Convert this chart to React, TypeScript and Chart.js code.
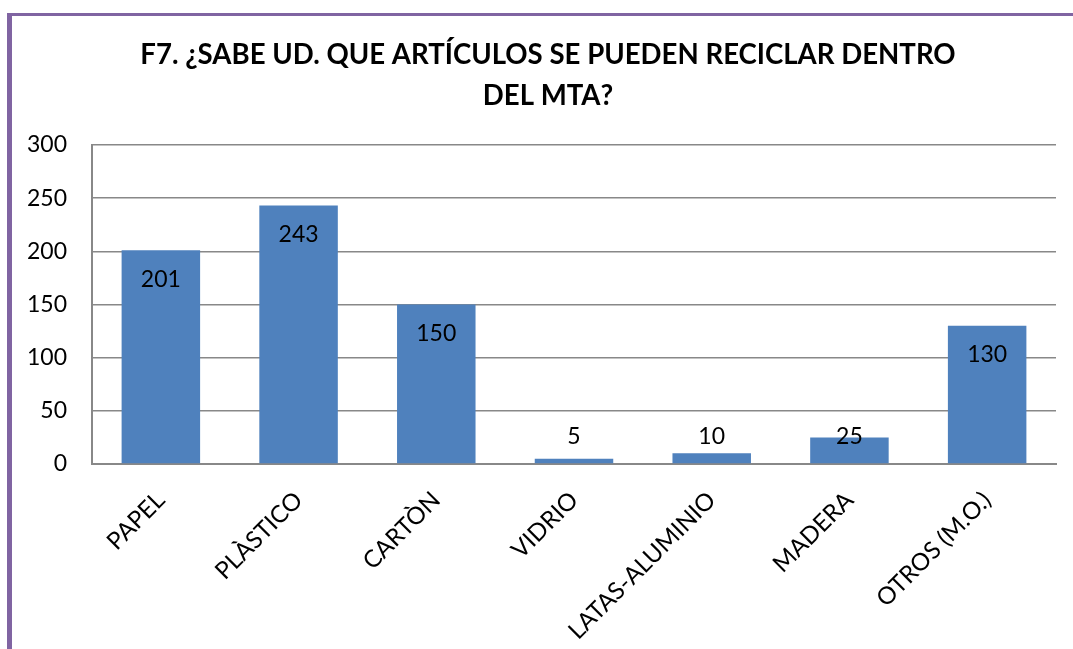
import React, { useEffect, useRef } from "react";
import { Chart, registerables } from "chart.js";

Chart.register(...registerables);

const titleLines = ["F7. ¿SABE UD. QUE ARTÍCULOS SE PUEDEN RECICLAR DENTRO", "DEL MTA?"];
const categories = ["PAPEL", "PLÀSTICO", "CARTÒN", "VIDRIO", "LATAS-ALUMINIO", "MADERA", "OTROS (M.O.)"];
const values = [201, 243, 150, 5, 10, 25, 130];
const yTicks = [0, 50, 100, 150, 200, 250, 300];

const FONT = "Lato, 'Open Sans', sans-serif";

const framePlugin = {
  id: "frame",
  beforeDraw(chart: any) {
    const ctx = chart.ctx;
    ctx.save();
    ctx.fillStyle = "#ffffff";
    ctx.fillRect(0, 0, chart.width, chart.height);
    ctx.fillStyle = "#8064A2";
    ctx.fillRect(7, 13, chart.width - 7, 3);
    ctx.fillRect(7, 13, 5, chart.height - 13);
    ctx.restore();
  },
  afterDraw(chart: any) {
    const ctx = chart.ctx;
    ctx.save();
    ctx.fillStyle = "#000000";
    ctx.font = `bold 27.6px ${FONT}`;
    ctx.textAlign = "center";
    ctx.textBaseline = "middle";
    ctx.fillText(titleLines[0], 548, 55);
    ctx.fillText(titleLines[1], 548, 96);
    ctx.restore();
  },
};

const labelPlugin = {
  id: "barLabels",
  afterDatasetsDraw(chart: any) {
    const ctx = chart.ctx;
    const meta = chart.getDatasetMeta(0);
    const base = chart.scales.y.getPixelForValue(0);
    ctx.save();
    ctx.fillStyle = "#000000";
    ctx.font = `23px ${FONT}`;
    ctx.textAlign = "center";
    ctx.textBaseline = "middle";
    meta.data.forEach((bar: any, i: number) => {
      const y = Math.min(bar.y + 29, base - 27);
      ctx.fillText(String(values[i]), bar.x, y);
    });
    ctx.restore();
  },
};

export default function App() {
  const ref = useRef<HTMLCanvasElement | null>(null);
  useEffect(() => {
    document.body.style.margin = "0";
    const canvas = ref.current!;
    const chart = new Chart(canvas, {
      type: "bar",
      data: {
        labels: categories,
        datasets: [
          {
            data: values,
            backgroundColor: "#4F81BD",
            borderWidth: 0,
            categoryPercentage: 1,
            barPercentage: 0.57,
          },
        ],
      },
      options: {
        animation: false,
        responsive: false,
        maintainAspectRatio: false,
        layout: { padding: { top: 145, right: 17, left: 0, bottom: 0 } },
        plugins: { legend: { display: false }, tooltip: { enabled: false }, title: { display: false } },
        scales: {
          x: {
            grid: { display: false, drawTicks: false },
            border: { display: true, color: "#888888", width: 2 },
            ticks: {
              minRotation: 45,
              maxRotation: 45,
              autoSkip: false,
              padding: 22,
              color: "#000000",
              font: { family: FONT, size: 24 },
            },
            afterFit(scale: any) {
              scale.height = 185;
            },
          },
          y: {
            min: 0,
            max: 300,
            afterBuildTicks(scale: any) {
              scale.ticks = yTicks.map((v) => ({ value: v }));
            },
            grid: { color: "#888888", lineWidth: 1.5, drawTicks: false },
            border: { display: true, color: "#888888", width: 2 },
            ticks: {
              padding: 25,
              color: "#000000",
              font: { family: FONT, size: 23 },
            },
            afterFit(scale: any) {
              scale.width = 92;
            },
          },
        },
      },
      plugins: [framePlugin, labelPlugin],
    });
    return () => chart.destroy();
  }, []);
  return (
    <div style={{ width: 1073, height: 649, position: "relative" }}>
      <canvas ref={ref} width={1073} height={649} style={{ display: "block", width: 1073, height: 649 }} />
    </div>
  );
}
